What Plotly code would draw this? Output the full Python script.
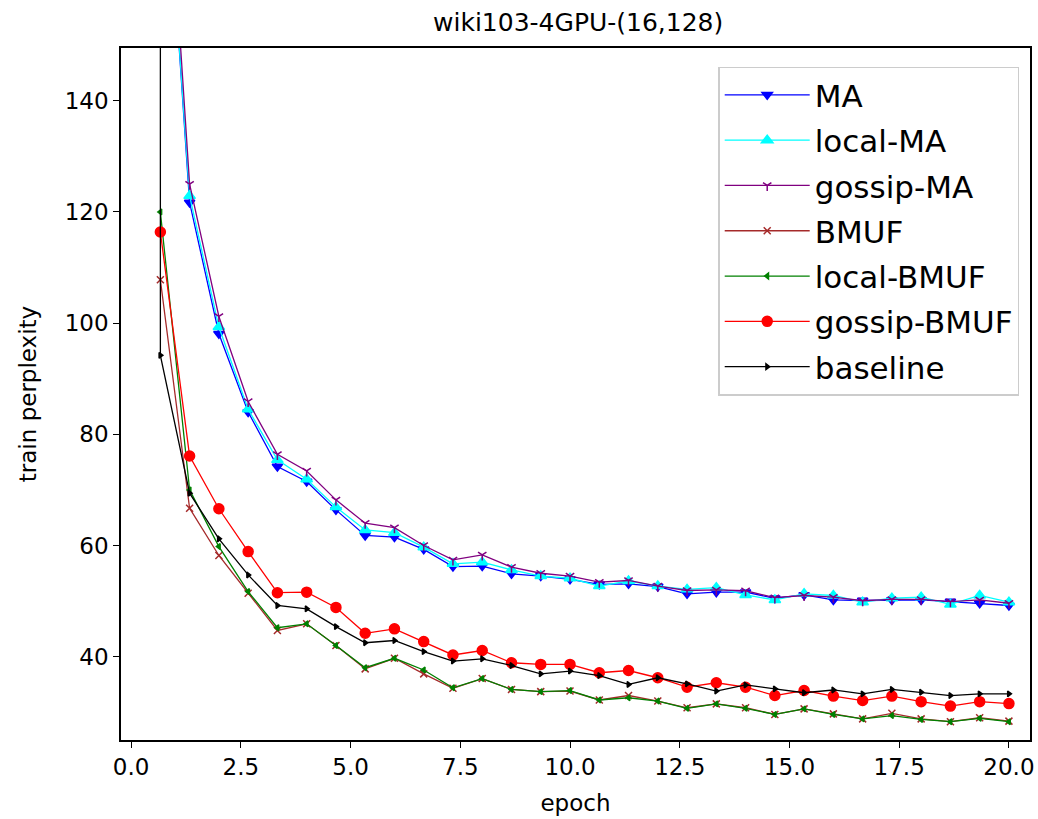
import plotly.graph_objects as go

epochs = [0.667, 1.333, 2.0, 2.667, 3.333, 4.0, 4.667, 5.333, 6.0, 6.667,
          7.333, 8.0, 8.667, 9.333, 10.0, 10.667, 11.333, 12.0, 12.667, 13.333,
          14.0, 14.667, 15.333, 16.0, 16.667, 17.333, 18.0, 18.667, 19.333, 20.0]

ma = [200.0, 121.7, 98.1, 84.0, 74.2, 71.5, 66.4, 61.8, 61.5, 59.3,
      56.2, 56.3, 54.9, 54.5, 53.9, 53.0, 53.1, 52.6, 51.3, 51.6,
      51.6, 50.5, 51.1, 50.2, 50.1, 50.2, 50.2, 49.9, 49.6, 49.2]
local_ma = [199.0, 122.9, 99.3, 84.5, 75.4, 71.9, 66.9, 62.8, 62.3, 59.7,
            56.7, 57.0, 55.6, 54.5, 54.1, 52.7, 53.6, 52.7, 52.1, 52.4,
            51.1, 50.2, 51.3, 51.0, 49.8, 50.5, 50.7, 49.4, 51.0, 49.8]
gossip_ma = [205.0, 125.0, 101.2, 85.9, 76.4, 73.4, 68.2, 64.0, 63.2, 60.0,
             57.4, 58.3, 56.1, 55.0, 54.5, 53.4, 53.7, 52.7, 51.9, 52.0,
             51.85, 50.6, 51.0, 50.7, 50.05, 50.3, 50.3, 49.9, 50.2, 49.6]
bmuf = [107.8, 66.7, 58.2, 51.4, 44.7, 45.9, 42.0, 37.8, 39.7, 36.9,
        34.3, 36.05, 34.1, 33.7, 33.8, 32.2, 33.0, 32.0, 30.8, 31.5,
        30.8, 29.6, 30.6, 29.7, 28.8, 29.8, 28.8, 28.3, 29.0, 28.4]
local_bmuf = [120.0, 70.0, 59.8, 51.7, 45.2, 45.9, 42.0, 38.0, 39.7, 37.6,
              34.4, 36.05, 34.1, 33.7, 33.9, 32.2, 32.6, 32.0, 30.7, 31.5,
              30.7, 29.6, 30.6, 29.6, 28.8, 29.4, 28.7, 28.3, 28.9, 28.3]
gossip_bmuf = [116.4, 76.1, 66.6, 58.9, 51.5, 51.6, 48.85, 44.2, 45.0, 42.7,
               40.3, 41.1, 38.9, 38.6, 38.6, 37.1, 37.5, 36.2, 34.5, 35.3,
               34.5, 33.0, 33.9, 32.9, 32.1, 32.9, 31.9, 31.1, 31.9, 31.55]
# baseline starts with an extra point far above the plot at the first epoch
baseline_epochs = [0.667] + epochs
baseline = [600.0, 94.2, 69.4, 61.2, 54.7, 49.2, 48.6, 45.4, 42.5, 42.9, 40.9,
            39.2, 39.6, 38.4, 36.9, 37.4, 36.6, 35.0, 36.2, 35.1, 33.8,
            34.9, 34.2, 33.5, 34.0, 33.3, 34.1, 33.6, 33.0, 33.3, 33.3]

series = [
    ("MA", epochs, ma, "#0000ff", "triangle-down", 9),
    ("local-MA", epochs, local_ma, "#00ffff", "triangle-up", 10),
    ("gossip-MA", epochs, gossip_ma, "#800080", "y-down", 7),
    ("BMUF", epochs, bmuf, "#a52a2a", "x-thin", 7),
    ("local-BMUF", epochs, local_bmuf, "#008000", "triangle-left", 5),
    ("gossip-BMUF", epochs, gossip_bmuf, "#ff0000", "circle", 10),
    ("baseline", baseline_epochs, baseline, "#000000", "triangle-right", 5),
]

fig = go.Figure()
for name, xs, ys, color, symbol, size in series:
    fig.add_trace(go.Scatter(
        x=xs, y=ys, name=name, mode="lines+markers",
        legendgroup=name,
        line=dict(color=color, width=1.3),
        marker=dict(symbol=symbol, size=size, color=color,
                    line=dict(color=color, width=1.5)),
    ))

font = "DejaVu Sans, Arial, sans-serif"
fig.update_layout(
    width=1038, height=819,
    plot_bgcolor="white", paper_bgcolor="white",
    margin=dict(l=121, r=8, t=48, b=79, autoexpand=False),
    font=dict(family=font, size=23, color="black"),
    title=dict(text="wiki103-4GPU-(16,128)", x=0.557, xanchor="center",
               y=0.973, yanchor="middle", font=dict(size=25)),
    legend=dict(x=0.657, y=0.973, xanchor="left", yanchor="top",
                bordercolor="#cccccc", borderwidth=1.5, bgcolor="white",
                font=dict(size=31), tracegroupgap=2, itemwidth=85),
)
fig.update_xaxes(range=[-0.23, 20.48], tickvals=[0, 2.5, 5, 7.5, 10, 12.5, 15, 17.5, 20],
                 ticktext=["0.0", "2.5", "5.0", "7.5", "10.0", "12.5", "15.0", "17.5", "20.0"],
                 showgrid=False, zeroline=False, showline=True, linecolor="black",
                 linewidth=1.5, mirror=True, ticks="outside", ticklen=6,
                 tickcolor="black", title=dict(text="epoch", standoff=16, font=dict(size=23)))
fig.update_yaxes(range=[25.0, 149.5], tickvals=[40, 60, 80, 100, 120, 140],
                 showgrid=False, zeroline=False, showline=True, linecolor="black",
                 linewidth=1.5, mirror=True, ticks="outside", ticklen=6,
                 tickcolor="black", title=dict(text="train perplexity", standoff=22,
                                               font=dict(size=23)))

# drop the default page margin so the figure fills the window exactly
fig.write_html("out.html", config={"displayModeBar": False},
               post_script="document.body.style.margin='0';")
